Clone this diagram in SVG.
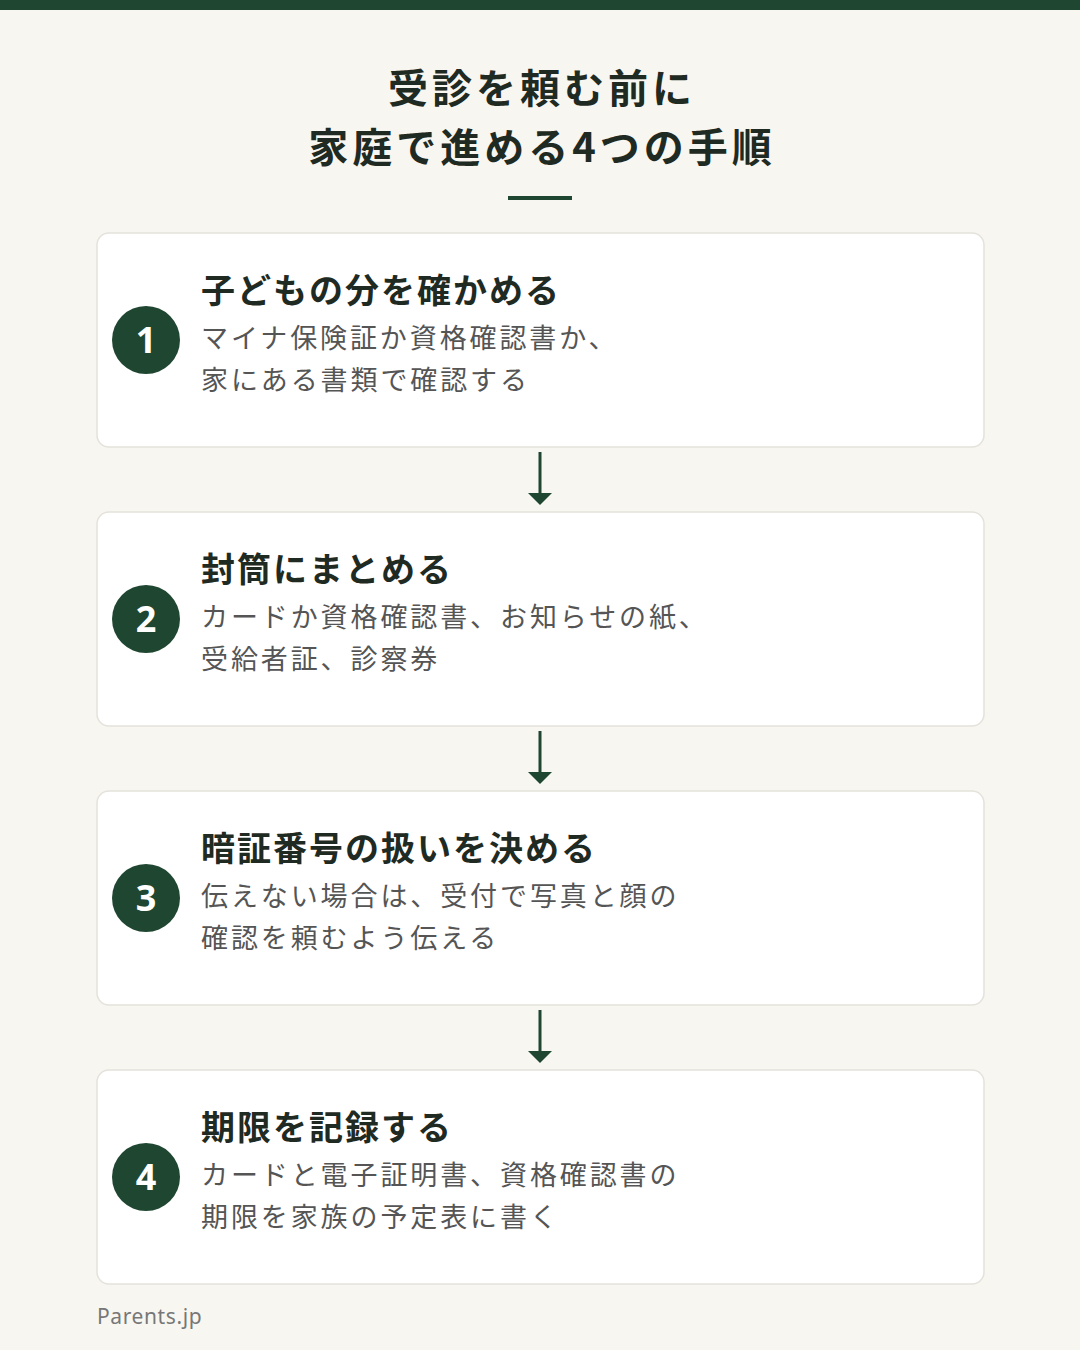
<svg xmlns="http://www.w3.org/2000/svg" width="1080" height="1350" viewBox="0 0 1080 1350">
<style>
.t{font-family:"Noto Sans CJK JP","Noto Sans",sans-serif;font-weight:700;font-size:40px;fill:#1f2a22;text-anchor:middle;letter-spacing:4px}
.card{fill:#fff;stroke:#e4e2da;stroke-width:1.5}
.c{fill:#1f4630}
.n{font-family:"Noto Sans","Liberation Sans",sans-serif;font-weight:700;font-size:36px;fill:#fff;text-anchor:middle}
.h{font-family:"Noto Sans CJK JP",sans-serif;font-weight:700;font-size:34px;fill:#1f2a22;letter-spacing:2px}
.b{font-family:"Noto Sans CJK JP",sans-serif;font-size:27px;fill:#555;letter-spacing:2.9px}
.a{stroke:#1f4630;stroke-width:3}
</style>
<rect width="1080" height="1350" fill="#f7f6f1"/>
<rect width="1080" height="10" fill="#1f4630"/>
<text class="t" x="542" y="103">受診を頼む前に</text>
<text class="t" x="542" y="162">家庭で進める4つの手順</text>
<rect x="508" y="196" width="64" height="4" fill="#1f4630"/>
<g id="connectors">
<line class="a" x1="540" y1="452" x2="540" y2="494"/><path d="M528,493L552,493L540,505z" fill="#1f4630"/>
<line class="a" x1="540" y1="731" x2="540" y2="773"/><path d="M528,772L552,772L540,784z" fill="#1f4630"/>
<line class="a" x1="540" y1="1010" x2="540" y2="1052"/><path d="M528,1051L552,1051L540,1063z" fill="#1f4630"/>
</g>
<g id="step1"><rect class="card" x="97" y="233" width="887" height="214" rx="12"/><circle class="c" cx="146" cy="340" r="34"/><text class="n" x="146" y="353">1</text>
<text class="h" x="201" y="303">子どもの分を確かめる</text><text class="b" x="201" y="348">マイナ保険証か資格確認書か、</text><text class="b" x="201" y="390">家にある書類で確認する</text></g>
<g id="step2"><rect class="card" x="97" y="512" width="887" height="214" rx="12"/><circle class="c" cx="146" cy="619" r="34"/><text class="n" x="146" y="632">2</text>
<text class="h" x="201" y="582">封筒にまとめる</text><text class="b" x="201" y="627">カードか資格確認書、お知らせの紙、</text><text class="b" x="201" y="669">受給者証、診察券</text></g>
<g id="step3"><rect class="card" x="97" y="791" width="887" height="214" rx="12"/><circle class="c" cx="146" cy="898" r="34"/><text class="n" x="146" y="911">3</text>
<text class="h" x="201" y="861">暗証番号の扱いを決める</text><text class="b" x="201" y="906">伝えない場合は、受付で写真と顔の</text><text class="b" x="201" y="948">確認を頼むよう伝える</text></g>
<g id="step4"><rect class="card" x="97" y="1070" width="887" height="214" rx="12"/><circle class="c" cx="146" cy="1177" r="34"/><text class="n" x="146" y="1190">4</text>
<text class="h" x="201" y="1140">期限を記録する</text><text class="b" x="201" y="1185">カードと電子証明書、資格確認書の</text><text class="b" x="201" y="1227">期限を家族の予定表に書く</text></g>
<text x="97" y="1324" font-family="Noto Sans,sans-serif" font-size="21" fill="#777" letter-spacing="0.6">Parents.jp</text>
</svg>
